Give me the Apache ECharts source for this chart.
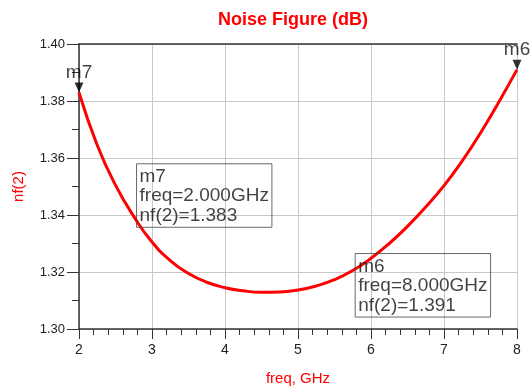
<!DOCTYPE html>
<html>
<head>
<meta charset="utf-8">
<script src="https://cdn.jsdelivr.net/npm/echarts@6/dist/echarts.min.js"></script>
<style>
  html, body { margin: 0; padding: 0; background: #fff; }
  #chart { width: 531px; height: 392px; }
</style>
</head>
<body>
<div id="chart"></div>
<script>
// curve samples
const freqs = [2.0, 2.25, 2.5, 2.75, 3.0, 3.25, 3.5, 3.75, 4.0, 4.25, 4.5, 4.75,
  5.0, 5.25, 5.5, 5.75, 6.0, 6.25, 6.5, 6.75, 7.0, 7.25, 7.5, 7.75, 8.0];
const nf = [1.383, 1.3645, 1.3505, 1.3395, 1.3305, 1.3240, 1.3195, 1.3164, 1.3145,
  1.3134, 1.3129, 1.3130, 1.3137, 1.3151, 1.3173, 1.3205, 1.3248, 1.3300,
  1.3360, 1.3428, 1.3503, 1.3590, 1.3688, 1.3796, 1.3910];

// markers
const markerNames = ["m7", "m6"];
const markerFreq = [2.0, 8.0];
const markerNf = [1.383, 1.391];
// where the readout boxes sit (top-left corner, data units)
const boxFreq = [2.795, 5.79];
const boxNf = [1.3578, 1.3263];

const yTicks = ["1.30", "1.32", "1.34", "1.36", "1.38", "1.40"];

const font = '"Liberation Sans", Arial, sans-serif';
const red = "#ff0000";
const axisColor = "#333333";
const gridColor = "#c8c8c8";

const chart = echarts.init(document.getElementById("chart"), null, { renderer: "canvas" });

const option = {
  backgroundColor: "#fff",
  animation: false,
  title: {
    text: "Noise Figure (dB)",
    left: 213,
    top: 6,
    textStyle: { color: red, fontFamily: font, fontSize: 18, fontWeight: "bold" },
  },
  grid: { left: 79, right: 14, top: 44, bottom: 63 },
  xAxis: [
    {
      type: "value",
      min: 2,
      max: 8,
      interval: 1,
      name: "freq, GHz",
      nameLocation: "middle",
      nameGap: 42,
      nameTextStyle: { color: red, fontFamily: font, fontSize: 15 },
      axisLine: { show: true, lineStyle: { color: axisColor, width: 1.5 } },
      axisTick: { show: true, length: 10, lineStyle: { color: axisColor } },
      minorTick: { show: true, splitNumber: 5, length: 6, lineStyle: { color: axisColor } },
      axisLabel: { color: "#222", fontFamily: font, fontSize: 14, margin: 14 },
      splitLine: { show: true, lineStyle: { color: gridColor, width: 1 } },
    },
    {
      type: "value",
      position: "top",
      min: 2,
      max: 8,
      axisLine: { show: true, lineStyle: { color: axisColor, width: 1.5 } },
      axisTick: { show: false },
      axisLabel: { show: false },
      splitLine: { show: false },
    },
  ],
  yAxis: {
    type: "value",
    min: 1.30,
    max: 1.40,
    interval: 0.02,
    name: "nf(2)",
    nameLocation: "middle",
    nameGap: 53,
    nameTextStyle: { color: red, fontFamily: font, fontSize: 15 },
    axisLine: { show: true, lineStyle: { color: axisColor, width: 1.5 } },
    axisTick: { show: true, length: 12, lineStyle: { color: axisColor } },
    minorTick: { show: true, splitNumber: 2, length: 7, lineStyle: { color: axisColor } },
    axisLabel: {
      color: "#222",
      fontFamily: font,
      fontSize: 13,
      margin: 14,
      formatter: (v) => yTicks.find((t) => Math.abs(parseFloat(t) - v) < 1e-6) || "",
    },
    splitLine: { show: true, lineStyle: { color: gridColor, width: 1 } },
  },
  series: [
    {
      name: "nf(2)",
      type: "line",
      data: freqs.map((f, i) => [f, nf[i]]),
      smooth: true,
      showSymbol: false,
      lineStyle: { color: red, width: 3 },
      z: 3,
    },
    {
      name: "markers",
      type: "scatter",
      clip: false,
      data: markerNames.map((n, i) => ({ name: n, value: [markerFreq[i], markerNf[i]] })),
      symbol: "triangle",
      symbolRotate: 180,
      symbolSize: [9, 10],
      symbolOffset: [0, -5],
      itemStyle: { color: "#000" },
      label: {
        show: true,
        position: "top",
        distance: 0,
        formatter: (p) => p.name,
        color: "#111",
        fontFamily: font,
        fontSize: 19,
      },
      z: 5,
    },
    {
      name: "readouts",
      type: "scatter",
      clip: false,
      data: markerNames.map((n, i) => ({ name: n, value: [boxFreq[i], boxNf[i]] })),
      symbolSize: 1,
      itemStyle: { color: "transparent" },
      label: {
        show: true,
        position: [0, 0],
        align: "left",
        verticalAlign: "top",
        formatter: (p) => {
          const i = p.dataIndex;
          return [
            markerNames[i],
            "freq=" + markerFreq[i].toFixed(3) + "GHz",
            "nf(2)=" + markerNf[i].toFixed(3),
          ].join("\n");
        },
        color: "#111",
        fontFamily: font,
        fontSize: 19,
        lineHeight: 19.5,
        borderColor: "#444",
        borderWidth: 1,
        padding: [3, 3, 2, 3],
      },
      z: 4,
    },
  ],
};

chart.setOption(option);
</script>
</body>
</html>
